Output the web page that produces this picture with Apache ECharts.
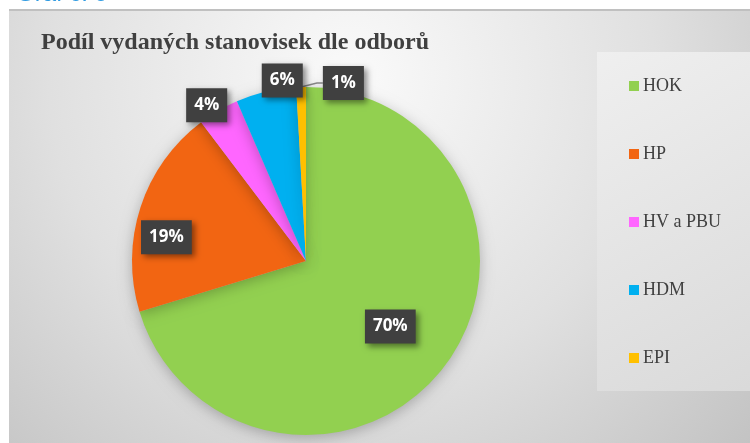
<!DOCTYPE html>
<html>
<head>
<meta charset="utf-8">
<script src="https://cdn.jsdelivr.net/npm/echarts@6/dist/echarts.min.js"></script>
<style>
  html, body { margin: 0; padding: 0; background: #fff; }
  #main { width: 750px; height: 443px; }
</style>
</head>
<body>
<div id="main"></div>
<script>
// Podíl vydaných stanovisek dle odborů
const categories = ['HOK', 'HP', 'HV a PBU', 'HDM', 'EPI'];
const shares = [70.3, 19.4, 3.8, 5.6, 0.9];
const colors = ['#92d050', '#f26512', '#ff66ff', '#00b0f0', '#ffc000'];

// label nudges (px) from the default position, like Excel "best fit"
const labelNudge = [[12, 12], [-54, 4], [-54, -78], [-3, -93], [74, 2]];

const chart = echarts.init(document.getElementById('main'));

const option = {
    animation: false,
    graphic: [
        {
            type: 'rect', z: -10, silent: true,
            shape: { x: 9, y: 10, width: 745, height: 440 },
            style: {
                fill: new echarts.graphic.RadialGradient(0.46, 0.15, 1.25, [
                    { offset: 0, color: '#fafafa' },
                    { offset: 0.55, color: '#e0e0e0' },
                    { offset: 1, color: '#c2c2c2' }
                ])
            }
        },
        {
            type: 'line', z: -9, silent: true,
            shape: { x1: 9, y1: 10, x2: 750, y2: 10 },
            style: { stroke: '#c0c0c0', lineWidth: 2 }
        },
        {
            type: 'text', silent: true, left: 16, top: -18,
            style: { text: 'Graf č. 9', fill: '#2f9be2', font: '24px "Liberation Sans", sans-serif' }
        }
    ],
    title: {
        text: 'Podíl vydaných stanovisek dle odborů',
        left: 36,
        top: 26,
        textStyle: {
            fontFamily: '"Liberation Serif", serif',
            fontSize: 24,
            fontWeight: 'bold',
            color: '#404040'
        }
    },
    legend: {
        orient: 'vertical',
        left: 597,
        top: 52,
        padding: [25, 60, 24, 32],
        backgroundColor: new echarts.graphic.LinearGradient(0, 0, 1, 1, [
            { offset: 0, color: '#efefef' },
            { offset: 1, color: '#d9d9d9' }
        ]),
        itemWidth: 10,
        itemHeight: 10,
        itemGap: 50,
        icon: 'rect',
        data: categories,
        textStyle: {
            fontFamily: '"Liberation Serif", serif',
            fontSize: 18,
            lineHeight: 17,
            color: '#404040',
            padding: [0, 0, 0, -1]
        }
    },
    series: [{
        type: 'pie',
        center: [306, 261],
        radius: 174,
        startAngle: 90,
        clockwise: true,
        avoidLabelOverlap: false,
        itemStyle: {
            shadowBlur: 14,
            shadowColor: 'rgba(0,0,0,0.25)',
            shadowOffsetY: 3
        },
        label: {
            position: 'inside',
            formatter: p => Math.round(p.value) + '%',
            color: '#fff',
            fontFamily: '"Open Sans", sans-serif',
            fontWeight: 'bold',
            fontSize: 17,
            backgroundColor: '#404040',
            padding: [9, 8, 8, 8],
            shadowBlur: 6,
            shadowColor: 'rgba(0,0,0,0.45)',
            shadowOffsetX: 3,
            shadowOffsetY: 3
        },
        labelLine: { show: false },
        labelLayout: p => {
            const r = p.labelRect;
            const n = labelNudge[p.dataIndex];
            return {
                x: r.x + r.width / 2 + n[0],
                y: r.y + r.height / 2 + n[1],
                align: 'center',
                verticalAlign: 'middle'
            };
        },
        data: categories.map((name, i) => ({
            name: name,
            value: shares[i],
            itemStyle: { color: colors[i] },
            label: i === 4 ? { position: 'outside' } : undefined,
            labelLine: i === 4 ? { show: true, length: 6, length2: 6, lineStyle: { color: '#8a8a8a', width: 1.5 } } : undefined
        }))
    }]
};

chart.setOption(option);
</script>
</body>
</html>
